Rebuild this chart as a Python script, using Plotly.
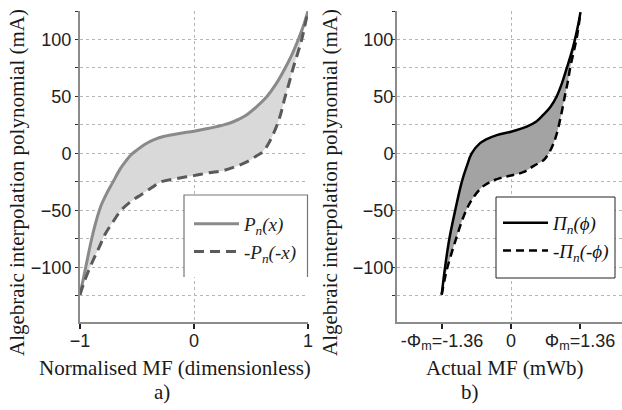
import plotly.graph_objects as go

# ---------------- data ----------------
# panel a) normalised MF
xa_pos = [-1, -0.95, -0.9, -0.86, -0.82, -0.77, -0.71, -0.65, -0.6, -0.55, -0.5, -0.43, -0.35, -0.26, -0.13,
          0, 0.13, 0.26, 0.35, 0.45, 0.55, 0.64, 0.72, 0.8, 0.86, 0.915, 0.96, 1]
ya_pos = [-124, -100, -76, -60, -47, -36, -25, -14, -7, -1, 3, 8, 12, 15, 17.5,
          19.5, 22, 25, 28, 33, 41, 50, 61, 75, 87, 100, 112, 125]
xa_neg = [-1, -0.96, -0.886, -0.83, -0.78, -0.71, -0.64, -0.55, -0.46, -0.37, -0.29, -0.15,
          0, 0.13, 0.26, 0.38, 0.49, 0.55, 0.6, 0.65, 0.7, 0.74, 0.77, 0.8, 0.835, 0.87, 0.91, 0.945, 1]
ya_neg = [-124, -112, -94, -82, -71, -60, -50, -42, -36, -30, -25, -22,
          -19.5, -17, -15, -11, -6, -2, 1, 8, 18, 28, 38, 50, 62, 75, 88, 100, 125]

# panel b) actual MF (mWb)
xb_pos = [-1.366, -1.30, -1.215, -1.10, -0.97, -0.87, -0.775, -0.61, -0.5, -0.28,
          0, 0.31, 0.5, 0.64, 0.78, 0.90, 1.0, 1.10, 1.19, 1.26, 1.32, 1.37]
yb_pos = [-124, -100, -75, -50, -25, -11, 0, 9, 12, 16,
          19, 23.5, 28, 34, 41, 50, 61, 75, 88, 100, 112, 124]
xb_neg = [-1.366, -1.27, -1.14, -1.04, -0.94, -0.84, -0.74, -0.58, -0.41, -0.2,
          0, 0.24, 0.45, 0.64, 0.70, 0.78, 0.84, 0.90, 0.98, 1.06, 1.12, 1.17, 1.24, 1.29, 1.33, 1.37]
yb_neg = [-124, -103, -83, -69, -56, -46, -38.5, -30, -25, -21.5,
          -19.4, -16.5, -11, -6, -3, 3, 9, 17, 32, 50, 63, 76, 90, 100, 111, 124]

ya_ticks = [-100, -50, 0, 50, 100]
xa_ticks = [-1, 0, 1]
xb_ticks = [-1.36, 0, 1.36]
xb_ticktext = ["-Φ<sub>m</sub>=-1.36", "0", "Φ<sub>m</sub>=1.36"]

names_a = ["<i>P<sub>n</sub>(x)</i>", "<i>-P<sub>n</sub>(-x)</i>"]
names_b = ["<i>Π<sub>n</sub>(ϕ)</i>", "<i>-Π<sub>n</sub>(-ϕ)</i>"]

y_title = "Algebraic interpolation polynomial (mA)"
xa_title = "Normalised MF (dimensionless)"
xb_title = "Actual MF (mWb)"

# ---------------- figure ----------------
fig = go.Figure()

SANS = "Liberation Sans, Arial, sans-serif"
SERIF = "Liberation Serif, Times New Roman, serif"
SM = 1.0

# fills
fig.add_trace(go.Scatter(x=xa_pos + xa_neg[::-1], y=ya_pos + ya_neg[::-1], fill="toself",
                         fillcolor="#d9d9d9", line=dict(width=0, shape="spline", smoothing=SM),
                         mode="lines", showlegend=False, hoverinfo="skip", xaxis="x", yaxis="y"))
fig.add_trace(go.Scatter(x=xb_pos + xb_neg[::-1], y=yb_pos + yb_neg[::-1], fill="toself",
                         fillcolor="#a3a3a3", line=dict(width=0, shape="spline", smoothing=SM),
                         mode="lines", showlegend=False, hoverinfo="skip", xaxis="x2", yaxis="y2"))

# panel a lines
fig.add_trace(go.Scatter(x=xa_pos, y=ya_pos, mode="lines", name=names_a[0], legendgroup="a1",
                         line=dict(color="#8a8a8a", width=3, shape="spline", smoothing=SM),
                         xaxis="x", yaxis="y", legend="legend"))
fig.add_trace(go.Scatter(x=xa_neg, y=ya_neg, mode="lines", name=names_a[1], legendgroup="a2",
                         line=dict(color="#5a5a5a", width=3, dash="10px,6px", shape="spline", smoothing=SM),
                         xaxis="x", yaxis="y", legend="legend"))
# panel b lines
fig.add_trace(go.Scatter(x=xb_pos, y=yb_pos, mode="lines", name=names_b[0], legendgroup="b1",
                         line=dict(color="#000000", width=2.5, shape="spline", smoothing=SM),
                         xaxis="x2", yaxis="y2", legend="legend2"))
fig.add_trace(go.Scatter(x=xb_neg, y=yb_neg, mode="lines", name=names_b[1], legendgroup="b2",
                         line=dict(color="#000000", width=2.5, dash="8px,5px", shape="spline", smoothing=SM),
                         xaxis="x2", yaxis="y2", legend="legend2"))

W, H = 622, 410
yd = [1 - 322 / H, 1 - 11 / H]

grid = dict(showgrid=True, gridcolor="#b5b5b5", griddash="dot", gridwidth=1)


def yaxis_common(standoff):
    return dict(
        range=[-148, 125], tickvals=ya_ticks, ticks="outside", ticklen=3, tickcolor="#333",
        tickfont=dict(family=SANS, size=18, color="#222"), ticklabelstandoff=standoff,
        showline=True, linecolor="#8c8c8c", linewidth=2, zeroline=False, automargin=False,
        minor=dict(dtick=25, tick0=0, ticks="outside", ticklen=3, tickcolor="#333", **grid),
        **grid,
    )


def px(x):
    return x / W


def py(y):
    return 1 - y / H


annotations = [
    dict(text=y_title, x=px(17), y=py(183), textangle=-90),
    dict(text=y_title, x=px(330), y=py(183), textangle=-90),
    dict(text=xa_title, x=px(175), y=py(368)),
    dict(text=xb_title, x=px(504), y=py(368)),
    dict(text="a)", x=px(162), y=py(392)),
    dict(text="b)", x=px(470), y=py(392)),
]
for a in annotations:
    a.update(xref="paper", yref="paper", showarrow=False, xanchor="center", yanchor="middle",
             font=dict(family=SERIF, size=21, color="#1a1a1a"))

shapes = [
    # legend box of panel a (white background, three sides)
    dict(type="rect", xref="paper", yref="paper", x0=px(184), x1=px(308), y0=py(277), y1=py(195),
         fillcolor="white", line=dict(width=0), layer="above"),
    dict(type="path", xref="paper", yref="paper",
         path=f"M {px(184)},{py(277)} L {px(184)},{py(195)} L {px(307.5)},{py(195)} L {px(307.5)},{py(277)}",
         line=dict(color="#777777", width=1.2), layer="above"),
    # legend box of panel b
    dict(type="rect", xref="paper", yref="paper", x0=px(496), x1=px(615), y0=py(278), y1=py(197),
         fillcolor="white", line=dict(color="#222222", width=1), layer="above"),
]

fig.update_layout(
    width=W, height=H, margin=dict(l=0, r=0, t=0, b=0, autoexpand=False),
    paper_bgcolor="white", plot_bgcolor="white",
    xaxis=dict(domain=[80 / W, 308 / W], range=[-1, 1], tickvals=xa_ticks,
               ticks="outside", ticklen=5, tickcolor="#222", tickwidth=1.5,
               tickfont=dict(family=SANS, size=18, color="#222"), ticklabelstandoff=-4,
               showline=True, linecolor="#8c8c8c", linewidth=2, zeroline=False, automargin=False,
               anchor="y", **grid),
    yaxis=dict(domain=yd, anchor="x", **yaxis_common(0)),
    xaxis2=dict(domain=[397 / W, 1.0], range=[-2.247, 2.188], tickvals=xb_ticks, ticktext=xb_ticktext,
                ticks="outside", ticklen=5, tickcolor="#222", tickwidth=1.5,
                tickfont=dict(family=SANS, size=18, color="#222"), ticklabelstandoff=-4,
                showline=True, linecolor="#8c8c8c", linewidth=2, zeroline=False, showgrid=False,
                automargin=False, minor=dict(tickvals=[0], ticks="", **grid),
                anchor="y2"),
    yaxis2=dict(domain=yd, anchor="x2", **yaxis_common(-5)),
    legend=dict(x=px(189), y=py(205), xanchor="left", yanchor="top",
                bgcolor="rgba(0,0,0,0)", borderwidth=0,
                font=dict(family=SERIF, size=19, color="#222"), itemwidth=45, tracegroupgap=0),
    legend2=dict(x=px(498), y=py(204), xanchor="left", yanchor="top",
                 bgcolor="rgba(0,0,0,0)", borderwidth=0,
                 font=dict(family=SERIF, size=19, color="#111"), itemwidth=45, tracegroupgap=0),
    annotations=annotations,
    shapes=shapes,
)

fig.write_html("out.html", config={"displayModeBar": False},
               post_script="document.body.style.margin='0px';")
